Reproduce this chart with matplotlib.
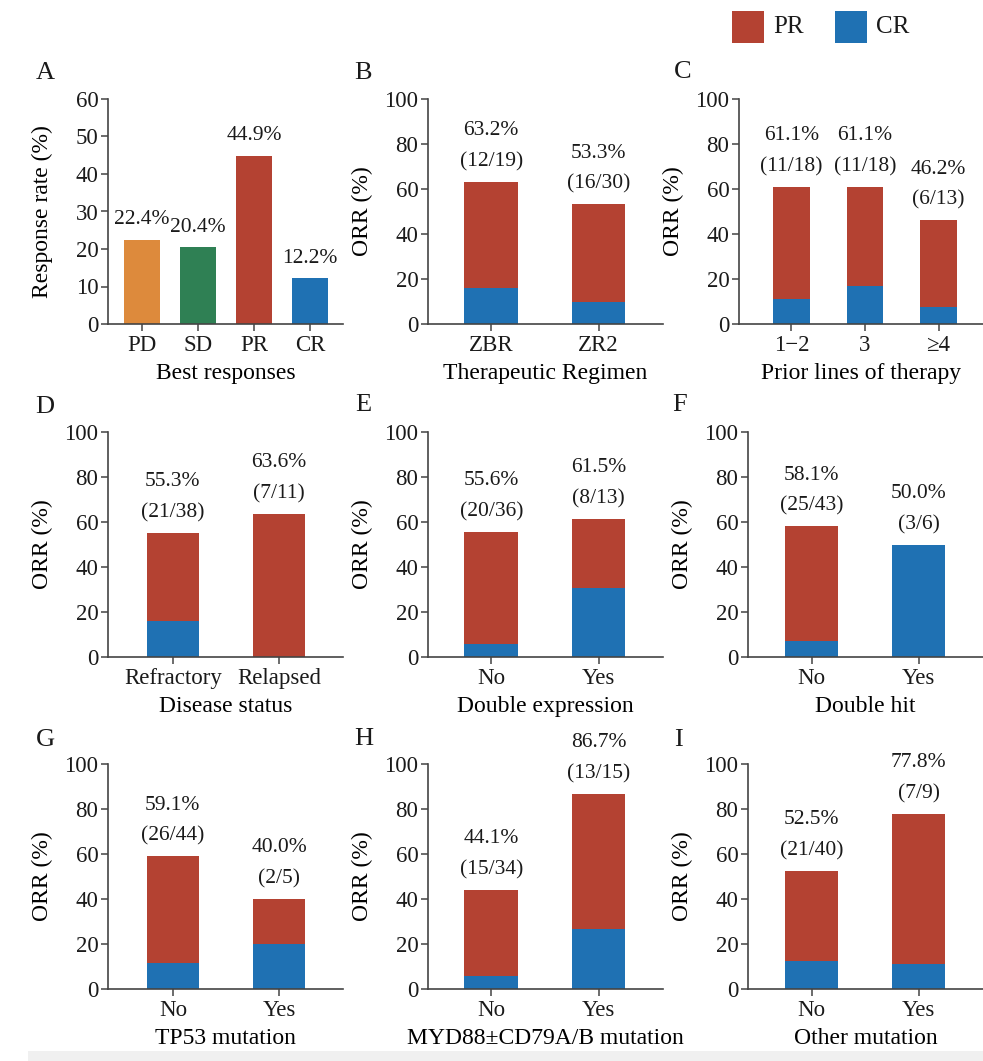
import matplotlib
matplotlib.use("Agg")
import matplotlib.pyplot as plt
from matplotlib.patches import Rectangle

plt.rcParams.update({
    "font.family": ["Liberation Serif", "DejaVu Serif"],
    "font.size": 16,
    "text.color": "#1a1a1a",
    "axes.edgecolor": "#444444",
    "axes.linewidth": 1.2,
    "xtick.color": "#444444",
    "ytick.color": "#444444",
    "xtick.labelcolor": "#1a1a1a",
    "ytick.labelcolor": "#1a1a1a",
})

RED = "#b44232"
BLUE = "#1f71b3"
ORANGE = "#dd8a3c"
GREEN = "#2f8054"

# panel A: best responses
best_cats = ["PD", "SD", "PR", "CR"]
best_vals = [22.4, 20.4, 44.9, 12.2]
best_cols = [ORANGE, GREEN, RED, BLUE]

# panels B-I: ORR split into CR (bottom) and PR (top)
regimen_cats = ["ZBR", "ZR2"]
regimen_orr = [63.2, 53.3]
regimen_cr = [15.8, 10.0]
regimen_n = ["(12/19)", "(16/30)"]

lines_cats = ["1\u22122", "3", "\u22654"]
lines_orr = [61.1, 61.1, 46.2]
lines_cr = [11.1, 16.7, 7.7]
lines_n = ["(11/18)", "(11/18)", "(6/13)"]

status_cats = ["Refractory", "Relapsed"]
status_orr = [55.3, 63.6]
status_cr = [15.8, 0.0]
status_n = ["(21/38)", "(7/11)"]

dexp_cats = ["No", "Yes"]
dexp_orr = [55.6, 61.5]
dexp_cr = [5.6, 30.8]
dexp_n = ["(20/36)", "(8/13)"]

dhit_cats = ["No", "Yes"]
dhit_orr = [58.1, 50.0]
dhit_cr = [7.0, 50.0]
dhit_n = ["(25/43)", "(3/6)"]

tp53_cats = ["No", "Yes"]
tp53_orr = [59.1, 40.0]
tp53_cr = [11.4, 20.0]
tp53_n = ["(26/44)", "(2/5)"]

myd_cats = ["No", "Yes"]
myd_orr = [44.1, 86.7]
myd_cr = [5.9, 26.7]
myd_n = ["(15/34)", "(13/15)"]

other_cats = ["No", "Yes"]
other_orr = [52.5, 77.8]
other_cr = [12.5, 11.1]
other_n = ["(21/40)", "(7/9)"]

W, H = 983, 1061
TICK_FS = 16.5
LABEL_FS = 17
NOTE_FS = 15.5
fig = plt.figure(figsize=(W / 100, H / 100), dpi=100)


def px_axes(x0, y_top, w, h):
    ax = fig.add_axes([x0 / W, 1 - (y_top + h) / H, w / W, h / H])
    ax._px_w = w
    return ax


def style(ax, ymax, step, xlabel, ylabel, cats):
    for s in ("top", "right"):
        ax.spines[s].set_visible(False)
    ax.set_ylim(0, ymax)
    ax.set_yticks(range(0, ymax + 1, step))
    ax.set_xticks(range(len(cats)))
    ax.set_xticklabels(cats)
    ax.tick_params(axis="both", length=5, width=1.1, labelsize=TICK_FS, pad=2)
    ax.tick_params(axis="x", pad=3)
    ax.set_xlabel(xlabel, fontsize=LABEL_FS, labelpad=5)
    ax.set_ylabel(ylabel, fontsize=LABEL_FS)
    # fixed distance of the y label from the axis, as in the source figure
    ax.yaxis.set_label_coords(-55 / ax._px_w, 0.5)


def note(ax, x, y, txt, dy):
    ax.annotate(txt, (x, y), textcoords="offset pixels", xytext=(0, dy),
                ha="center", va="center", fontsize=NOTE_FS)


def stacked(ax, cats, orr, cr, ns, xlabel, xlim, width):
    x = list(range(len(cats)))
    pr = [o - c for o, c in zip(orr, cr)]
    ax.bar(x, cr, width=width, color=BLUE, lw=0)
    ax.bar(x, pr, bottom=cr, width=width, color=RED, lw=0)
    for xi, o, n in zip(x, orr, ns):
        note(ax, xi, o, n, 20)
        note(ax, xi, o, f"{o:.1f}%", 51)
    ax.set_xlim(*xlim)
    style(ax, 100, 20, xlabel, "ORR (%)", cats)


# row 1
axA = px_axes(108, 99, 235, 225)
xa = list(range(len(best_cats)))
axA.bar(xa, best_vals, width=0.64, color=best_cols, lw=0)
for xi, v in zip(xa, best_vals):
    note(axA, xi, v, f"{v:.1f}%", 20)
axA.set_xlim(-0.607, 3.59)
style(axA, 60, 10, "Best responses", "Response rate (%)", best_cats)

axB = px_axes(428, 99, 235, 225)
stacked(axB, regimen_cats, regimen_orr, regimen_cr, regimen_n,
        "Therapeutic Regimen", (-0.59, 1.6), 0.5)

axC = px_axes(739, 99, 244, 225)
stacked(axC, lines_cats, lines_orr, lines_cr, lines_n,
        "Prior lines of therapy", (-0.714, 2.605), 0.5)

# row 2
axD = px_axes(108, 432, 235, 225)
stacked(axD, status_cats, status_orr, status_cr, status_n,
        "Disease status", (-0.61, 1.6), 0.49)

axE = px_axes(428, 432, 235, 225)
stacked(axE, dexp_cats, dexp_orr, dexp_cr, dexp_n,
        "Double expression", (-0.59, 1.6), 0.5)

axF = px_axes(748, 432, 235, 225)
stacked(axF, dhit_cats, dhit_orr, dhit_cr, dhit_n,
        "Double hit", (-0.593, 1.6), 0.5)

# row 3
axG = px_axes(108, 764, 235, 225)
stacked(axG, tp53_cats, tp53_orr, tp53_cr, tp53_n,
        "TP53 mutation", (-0.61, 1.6), 0.49)

axH = px_axes(428, 764, 235, 225)
stacked(axH, myd_cats, myd_orr, myd_cr, myd_n,
        "MYD88\u00b1CD79A/B mutation", (-0.59, 1.6), 0.5)

axI = px_axes(748, 764, 235, 225)
stacked(axI, other_cats, other_orr, other_cr, other_n,
        "Other mutation", (-0.593, 1.6), 0.5)

# panel letters
for letter, (lx, ly) in zip("ABCDEFGHI", [(45, 73), (363, 73), (683, 72),
                                          (45, 407), (363, 405), (680, 405),
                                          (45, 740), (364, 739), (678, 740)]):
    fig.text(lx / W, 1 - ly / H, letter, fontsize=19, ha="center", va="center")

# legend
for col, lab, x0 in [(RED, "PR", 732), (BLUE, "CR", 835)]:
    fig.patches.append(Rectangle((x0 / W, 1 - 43 / H), 32 / W, 32 / H,
                                 transform=fig.transFigure, color=col, lw=0))
    fig.text((x0 + 41) / W, 1 - 27 / H, lab, fontsize=18, ha="left", va="center")

# light footer band
fig.patches.append(Rectangle((28 / W, 0), 1 - 28 / W, 10 / H,
                             transform=fig.transFigure, color="#f0f0f0", lw=0))

fig.savefig("out.png", dpi=100, facecolor="white")
